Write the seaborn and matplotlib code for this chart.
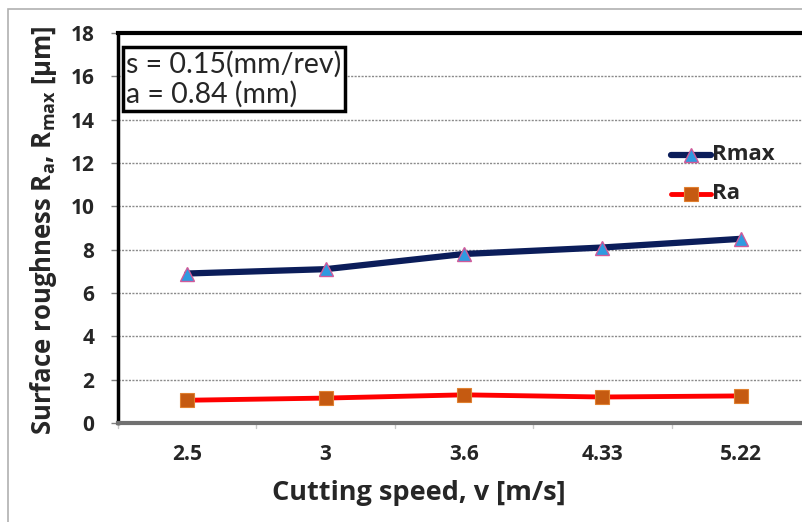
import pandas as pd
import matplotlib.pyplot as plt
import seaborn as sns
from matplotlib.patches import Rectangle

# data
speeds = ['2.5', '3', '3.6', '4.33', '5.22']
rmax = [6.9, 7.1, 7.8, 8.1, 8.5]
ra = [1.05, 1.15, 1.3, 1.2, 1.25]
y_ticks = [0, 2, 4, 6, 8, 10, 12, 14, 16, 18]

df = pd.DataFrame({'speed': speeds * 2,
                   'value': rmax + ra,
                   'series': ['Rmax'] * len(speeds) + ['Ra'] * len(speeds)})

sns.set_theme(style="white")
plt.rcParams['font.family'] = ['Open Sans', 'DejaVu Sans']
plt.rcParams['mathtext.fontset'] = 'custom'
plt.rcParams['mathtext.rm'] = 'Open Sans:bold'

fig = plt.figure(figsize=(8.03, 5.22), dpi=100)
ax = fig.add_axes([118 / 803, 99 / 522, 692 / 803, 390 / 522])

# outer chart border
fig.patches.append(Rectangle((8 / 803, -0.1), 1.2, (513 / 522) + 0.1, transform=fig.transFigure,
                             fill=False, edgecolor='#b0b0b0', linewidth=1.2))

rmax_df = df[df['series'] == 'Rmax']
ra_df = df[df['series'] == 'Ra']
sns.lineplot(x='speed', y='value', data=rmax_df, ax=ax, color='#0b1d5a', linewidth=4.5,
             marker='^', markersize=10, markerfacecolor='#2f9ae0', markeredgecolor='#d05a9a',
             markeredgewidth=1, label='Rmax', sort=False)
sns.lineplot(x='speed', y='value', data=ra_df, ax=ax, color='#ff0000', linewidth=3.5,
             marker='s', markersize=10, markerfacecolor='#c55a11', markeredgecolor='#e08030',
             markeredgewidth=0.8, label='Ra', sort=False)

ax.set_xlim(-0.5, len(speeds) - 0.5)
ax.set_ylim(0, 18)
ax.set_yticks(y_ticks)
ax.set_yticklabels([str(t) for t in y_ticks], fontsize=15, fontweight='bold')
ax.set_xticks(range(len(speeds)))
ax.set_xticklabels(speeds, fontsize=15, fontweight='bold')
ax.tick_params(axis='x', length=0, pad=15)
ax.tick_params(axis='y', length=5, width=1, color='#808080', direction='out', left=True, pad=12)

# category boundary tick marks
for b in [i + 0.5 for i in range(-1, len(speeds))]:
    ax.plot([b, b], [0, -0.25], color='#c8c8c8', lw=1, clip_on=False)

ax.yaxis.grid(True, linestyle=(0, (1.5, 1)), color='#8a8a8a', linewidth=1)
ax.xaxis.grid(False)
ax.spines['left'].set_color('black')
ax.spines['left'].set_linewidth(2.5)
ax.spines['top'].set_color('black')
ax.spines['top'].set_linewidth(3)
ax.spines['bottom'].set_color('#707070')
ax.spines['bottom'].set_linewidth(3)
ax.spines['right'].set_visible(False)

ax.set_xlabel('Cutting speed, v [m/s]', fontsize=19.5, fontweight='bold')
ax.xaxis.set_label_coords((419 - 118) / 692, -0.145)
ax.set_ylabel(r'Surface roughness R$_\mathregular{a}$, R$_\mathregular{max}$ [µm]',
              fontsize=18.5, fontweight='bold')
ax.yaxis.set_label_coords(-(118 - 59) / 692, 0.495)

# parameter box
ax.text(0.012, 0.955, 's = 0.15(mm/rev)\na = 0.84 (mm)', transform=ax.transAxes,
        fontsize=20.5, va='top', ha='left', linespacing=1.15, family=['Lato', 'DejaVu Sans'],
        bbox=dict(boxstyle='square,pad=0.12', facecolor='white', edgecolor='black', linewidth=2.5))

leg = ax.legend(loc='upper left', bbox_to_anchor=(0.79, 0.73), frameon=False,
                handlelength=2.6, labelspacing=1.15, handletextpad=0.1, borderaxespad=0)
for t in leg.get_texts():
    t.set_fontsize(16)
    t.set_fontweight('bold')

fig.savefig('out.png', dpi=100)
